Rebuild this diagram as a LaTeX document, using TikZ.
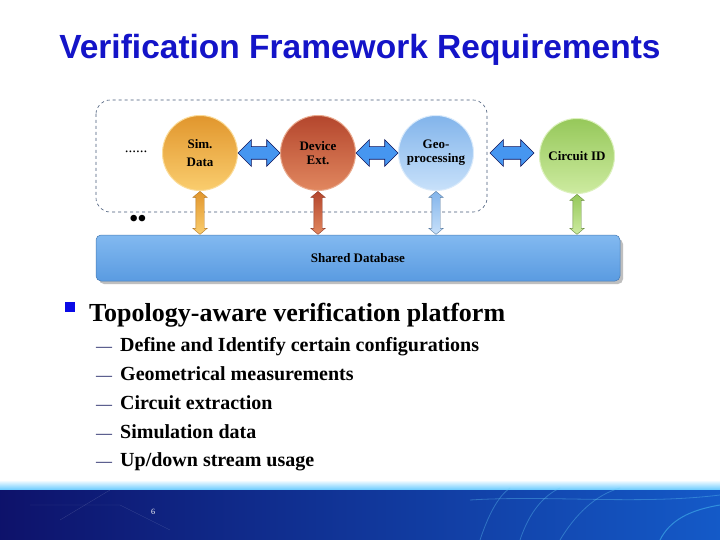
\documentclass[tikz,border=0pt]{standalone}
\usepackage{fontspec}
\setmainfont{Liberation Serif}
\newfontfamily\titlefont{Liberation Sans}
\usetikzlibrary{shapes.arrows,calc}
\definecolor{titleblue}{RGB}{20,20,200}
\definecolor{navy}{RGB}{15,20,90}
\definecolor{sqblue}{RGB}{10,10,230}
\definecolor{dashc}{RGB}{70,90,120}
\definecolor{arrblue}{RGB}{70,150,240}
\definecolor{oA}{RGB}{225,150,45}\definecolor{oB}{RGB}{250,205,110}
\definecolor{rA}{RGB}{180,70,45}\definecolor{rB}{RGB}{225,135,95}
\definecolor{bA}{RGB}{130,180,235}\definecolor{bB}{RGB}{200,225,250}
\definecolor{gA}{RGB}{150,200,90}\definecolor{gB}{RGB}{205,235,160}
\definecolor{dbA}{RGB}{90,155,225}\definecolor{dbB}{RGB}{130,185,240}
\tikzset{
  ball/.style={circle,minimum size=75pt,inner sep=0pt,align=center,
    font=\fontsize{13}{14}\selectfont\bfseries,text=black},
  harrow/.style={double arrow,draw=navy,fill=arrblue,line width=0.6pt,
    minimum height=42pt,minimum width=26pt,double arrow head extend=7pt,
    inner xsep=0pt,inner ysep=6pt,double arrow tip angle=90},
  varrow/.style={double arrow,rotate=90,line width=0.4pt,
    minimum height=43pt,minimum width=14pt,double arrow head extend=3pt,
    inner xsep=0pt,inner ysep=4pt,double arrow tip angle=100},
  subitem/.style={anchor=base west,inner sep=0pt,font=\fontsize{20}{22}\selectfont\bfseries,text=black},
  dashmark/.style={anchor=base west,inner sep=0pt,font=\fontsize{16}{18}\selectfont,text=navy},
}
\begin{document}
\begin{tikzpicture}[x=1pt,y=-1pt]
\useasboundingbox (0,0) rectangle (720,540);
\fill[white] (0,0) rectangle (720,540);
% title
\node[font=\titlefont\fontsize{33.5}{36}\selectfont\bfseries,text=titleblue] (title) at (360,50) {Verification Framework Requirements};
% dashed group box
\draw[dashc,dashed,line width=0.6pt,rounded corners=14pt] (96,100) rectangle (487,212);
\node[font=\fontsize{15}{16}\selectfont] (dots) at (136,152) {......};
\node[font=\fontsize{24}{24}\selectfont\bfseries,inner sep=0pt] (dots2) at (138,221) {••};
% shared database
\fill[black!25,rounded corners=5pt] (99,239) rectangle (623,284);
\node[rounded corners=5pt,top color=dbB,bottom color=dbA,draw=dbA!80!black,line width=0.5pt,
  minimum width=524pt,minimum height=46pt,inner sep=0pt,
  font=\fontsize{13}{14}\selectfont\bfseries] (db) at (358,258) {Shared Database};
% circles
\node[ball,top color=oA,bottom color=oB,draw=oB!70!white,line width=1pt] (sim) at (200,153) {Sim.\\[4pt]Data};
\node[ball,top color=rA,bottom color=rB,draw=rB!70!white,line width=1pt] (dev) at (318,153) {Device\\Ext.};
\node[ball,top color=bA,bottom color=bB,draw=bB!70!white,line width=1pt] (geo) at (436,153) {Geo-\\processing};
\node[ball,top color=gA,bottom color=gB,draw=gB!70!white,line width=1pt] (cid) at (577,156) {Circuit ID};
% horizontal double arrows
\node[harrow] (a1) at ($(sim.east)!0.5!(dev.west)$) {};
\node[harrow] (a2) at ($(dev.east)!0.5!(geo.west)$) {};
\node[harrow,minimum height=44pt] (a3) at (512,153) {};
% vertical double arrows
\node[varrow,draw=oA!80!black,top color=oA,bottom color=oB] (v1) at ($(sim.south)!0.5!(sim.south|-db.north)$) {};
\node[varrow,draw=rA!80!black,top color=rA,bottom color=rB] (v2) at ($(dev.south)!0.5!(dev.south|-db.north)$) {};
\node[varrow,draw=bA!70!black,top color=bA,bottom color=bB] (v3) at ($(geo.south)!0.5!(geo.south|-db.north)$) {};
\node[varrow,draw=gA!70!black,top color=gA,bottom color=gB,minimum height=40pt] (v4) at ($(cid.south)!0.5!(cid.south|-db.north)$) {};
% bullet list
\node[fill=sqblue,minimum size=10pt,inner sep=0pt] (sq) at (70,307) {};
\node[anchor=base west,inner sep=0pt,font=\fontsize{26}{28}\selectfont\bfseries] (main) at (89,321) {Topology-aware verification platform};
\foreach \y/\t [count=\i] in {351/{Define and Identify certain configurations},
  380/{Geometrical measurements},409/{Circuit extraction},438/{Simulation data},466/{Up/down stream usage}}{
  \node[dashmark] (d\i) at (96,\y) {—};
  \node[subitem] (s\i) at (120,\y) {\t};
}
% footer
\shade[top color=white,bottom color=blue!35!cyan!60] (0,480) rectangle (720,490);
\shade[left color=navy!90!blue,right color={rgb,255:red,20;green,90;blue,200}] (0,490) rectangle (720,540);
\draw[white,opacity=0.15] (30,505) -- (120,505) -- (170,530);
\draw[white,opacity=0.15] (60,520) -- (110,490);
\draw[cyan!60,opacity=0.35,line width=0.8pt] (480,540) .. controls (490,510) and (500,495) .. (510,488);
\draw[cyan!60,opacity=0.35,line width=0.8pt] (520,540) .. controls (530,510) and (545,495) .. (560,488);
\draw[cyan!60,opacity=0.35,line width=0.8pt] (560,540) .. controls (575,515) and (595,495) .. (620,488);
\draw[cyan!60,opacity=0.35,line width=0.8pt] (470,500) .. controls (550,495) and (640,505) .. (720,495);
\draw[cyan!70,opacity=0.5,line width=1pt] (660,540) .. controls (670,520) and (690,510) .. (720,505);
\node[text=white,font=\fontsize{8}{9}\selectfont] (pg) at (153,512) {6};
\end{tikzpicture}
\end{document}
